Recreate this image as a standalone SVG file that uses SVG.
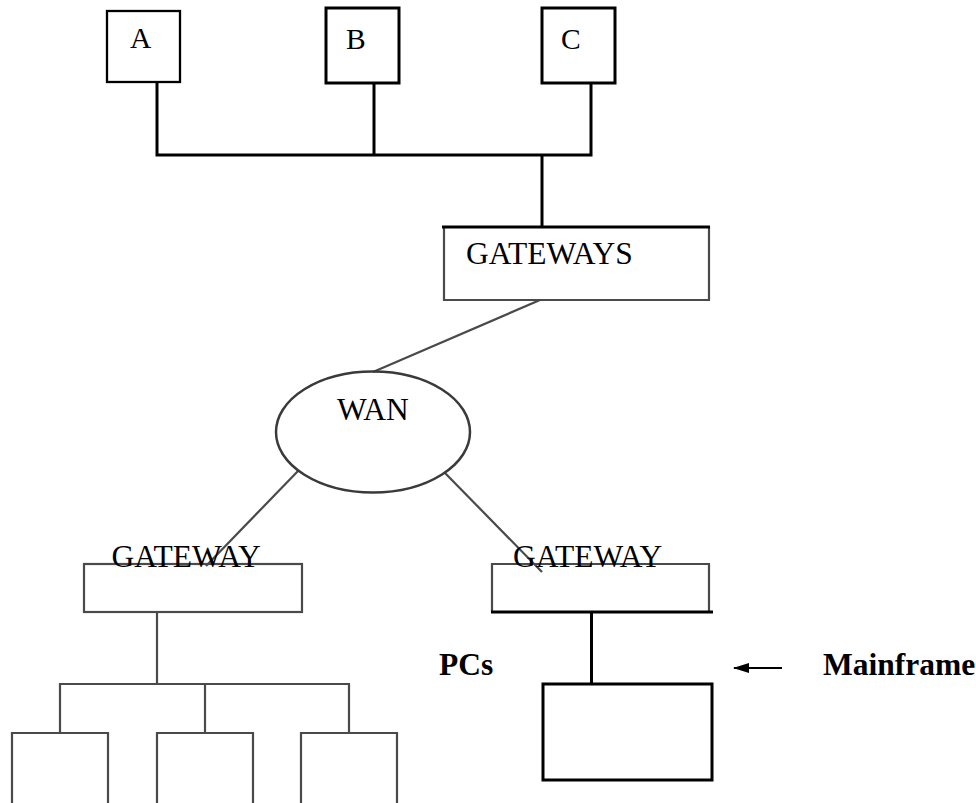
<svg xmlns="http://www.w3.org/2000/svg" width="976" height="803" viewBox="0 0 976 803">
  <style>
    .lbl { font-family: "Liberation Serif", "Times New Roman", serif; fill: #000; }
    .big { font-size: 31.5px; }
    .sm { font-size: 29.5px; }
    .bold { font-weight: bold; font-size: 31.5px; }
    .box { fill: #fff; stroke: #000; stroke-width: 3; }
    .thin { fill: none; stroke: #000; stroke-width: 2.3; }
    .soft { fill: none; stroke: #4a4a4a; stroke-width: 2.2; }
    .wire { fill: none; stroke: #000; stroke-width: 3; }
    .gwire { fill: none; stroke: #4a4a4a; stroke-width: 2.2; }
  </style>
  <defs>
    <!-- tip points along the path direction -->
    <marker id="arrowhead" markerWidth="16" markerHeight="12" refX="15" refY="6" orient="auto" markerUnits="userSpaceOnUse">
      <path d="M0,1 L16,6 L0,11 Z" fill="#000"/>
    </marker>
  </defs>
  <rect width="976" height="803" fill="#fff"/>

  <!-- links between hosts, gateways and the WAN -->
  <g id="connectors">
    <!-- host bus A/B/C -->
    <path class="wire" d="M157,82 V155 H591 V83"/>
    <path class="wire" d="M374,83 V155"/>
    <path class="wire" d="M542,155 V228"/>
    <!-- WAN links -->
    <path class="gwire" d="M540,300 L373,372"/>
    <path class="gwire" d="M298,471 L206,566"/>
    <path class="gwire" d="M445,473 L542,572"/>
    <!-- left gateway to PC tree -->
    <path class="gwire" d="M157,612 V684"/>
    <path class="gwire" d="M60,733 V684 H349 V733"/>
    <path class="gwire" d="M205,684 V733"/>
    <!-- right gateway to mainframe -->
    <path class="wire" d="M591.5,612 V684"/>
    <!-- pointer to the mainframe label -->
    <path d="M782,668 H734" stroke="#000" stroke-width="2.2" marker-end="url(#arrowhead)"/>
  </g>

  <g id="host-a">
    <rect class="thin" x="107" y="11" width="73" height="71" fill="#fff"/>
    <text class="lbl sm" x="130" y="48">A</text>
  </g>
  <g id="host-b">
    <rect class="box" x="326" y="8" width="73" height="75"/>
    <text class="lbl sm" x="346" y="49">B</text>
  </g>
  <g id="host-c">
    <rect class="box" x="542" y="8" width="73" height="75"/>
    <text class="lbl sm" x="561" y="49">C</text>
  </g>

  <g id="gateways">
    <path class="soft" d="M444,227 V300 H709 V227"/>
    <path class="wire" d="M442,227 H710"/>
    <text class="lbl big" x="466" y="264">GATEWAYS</text>
  </g>

  <g id="wan">
    <ellipse cx="373" cy="432" rx="97" ry="60.5" fill="none" stroke="#3a3a3a" stroke-width="2.5"/>
    <text class="lbl big" x="337" y="420">WAN</text>
  </g>

  <g id="gateway-left">
    <rect class="soft" x="84" y="564" width="218" height="48"/>
    <text class="lbl big" x="111.5" y="567">GATEWAY</text>
  </g>

  <g id="gateway-right">
    <path class="soft" d="M492,612 V564 H709 V612"/>
    <path class="wire" d="M491,612 H713"/>
    <text class="lbl big" x="513" y="567">GATEWAY</text>
  </g>

  <g id="pc-1">
    <path class="soft" d="M12,803 V733 H108 V803"/>
  </g>
  <g id="pc-2">
    <path class="soft" d="M157,803 V733 H253 V803"/>
  </g>
  <g id="pc-3">
    <path class="soft" d="M301,803 V733 H397 V803"/>
  </g>
  <g id="pcs-label">
    <text class="lbl bold" x="439" y="675">PCs</text>
  </g>

  <g id="mainframe">
    <rect class="box" x="543" y="684" width="169" height="96"/>
  </g>
  <g id="mainframe-label">
    <text class="lbl bold" x="823" y="675">Mainframe</text>
  </g>
</svg>
